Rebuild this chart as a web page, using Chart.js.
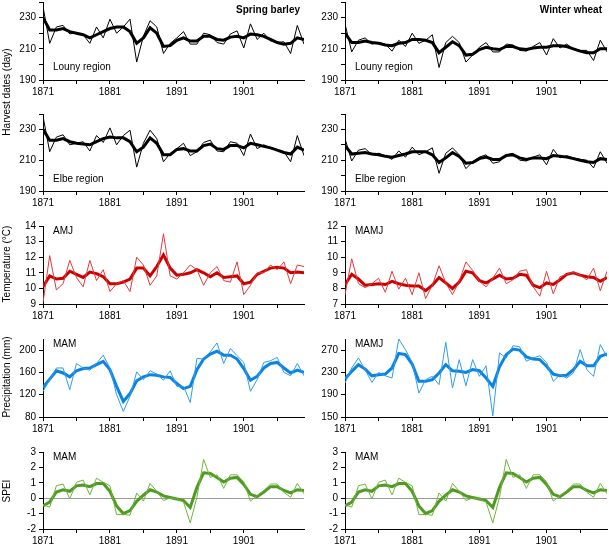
<!DOCTYPE html>
<html>
<head>
<meta charset="utf-8">
<script src="https://cdn.jsdelivr.net/npm/chart.js@4"></script>
<style>
  body { margin: 0; background: #fff; }
  #wrap { position: relative; width: 609px; height: 547px; overflow: hidden; font-family: "Liberation Sans", Arial, sans-serif; }
  canvas { position: absolute; }
  .lbl { position: absolute; font-size: 10px; color: #000; white-space: nowrap; line-height: 1; }
  .ttl { position: absolute; font-size: 10px; font-weight: bold; color: #000; white-space: nowrap; line-height: 1; }
  .ytitle { position: absolute; font-size: 10px; color: #000; white-space: nowrap; line-height: 1; transform: translate(-50%, -50%) rotate(-90deg); }
</style>
</head>
<body>
<div id="wrap"></div>
<script>
const years = [];
for (let y = 1871; y <= 1910; y++) years.push(y);

// harvest dates, spring barley, Louny
const lounySbAnnual = [237, 213.5, 224, 225, 219.5, 220.5, 219, 213.5, 224, 217, 229, 220, 224, 229, 201.5, 218, 228, 224, 207, 213.5,
  217, 221, 213, 213, 220, 219, 214, 213, 219.5, 221.5, 210.5, 226, 216, 220, 215, 214, 214.5, 207, 225, 213];
const lounySbSmooth = [230, 222, 222, 223, 221, 220, 219, 217, 219, 221, 223, 224, 224, 221, 213.5, 217, 223.5, 220, 211.5, 212,
  215.5, 217, 215, 215, 218, 218, 216, 215.5, 217.5, 218, 217, 219.5, 219, 218, 216, 214, 213, 213.5, 217, 216];

// harvest dates, winter wheat, Louny
const lounyWwAnnual = [226, 208, 215.5, 217, 213, 214, 213, 208.5, 215.5, 211.5, 220, 213.5, 215.5, 219, 198, 214, 218, 214, 201.5, 206,
  211, 214, 208, 208, 213, 212.5, 209, 208.5, 211.5, 214, 206, 216.5, 210.5, 213, 210, 209, 209, 202.5, 215.5, 208];
const lounyWwSmooth = [220, 214, 214, 215, 214, 213.5, 212.5, 212, 213.5, 214, 216, 216, 215.5, 214, 207.5, 211, 214.5, 212, 206, 206.5,
  209.5, 211, 210, 209.5, 211.5, 211.5, 210, 209.5, 210.5, 211, 211, 212, 212, 211.5, 210, 208.5, 207.5, 207.5, 210, 210];

// harvest dates, spring barley, Elbe
const elbeSbAnnual = [238.5, 215.5, 225, 226.5, 220, 221, 222, 216, 226, 221.5, 231, 220, 226, 229.5, 205.5, 221, 229.5, 224, 209, 214.5,
  217.5, 221, 213, 215.5, 221.5, 223, 216, 215.5, 222, 221, 213, 227, 217.5, 220, 218, 216.5, 215.5, 209, 226, 213];
const elbeSbSmooth = [230, 223, 223, 224, 222, 221, 220.5, 220, 222, 224, 225, 224.5, 224.5, 222, 215.5, 218.5, 224.5, 221, 213.5, 213.5,
  217, 217.5, 216, 216, 219.5, 220.5, 217.5, 217, 219.5, 219.5, 218, 221, 220, 219, 218, 216.5, 215, 214, 218.5, 216.5];

// harvest dates, winter wheat, Elbe
const elbeWwAnnual = [224, 209.5, 216.5, 217.5, 213.5, 214.5, 213, 210.5, 216, 212, 218.5, 213.5, 215.5, 218, 201.5, 214.5, 218, 213.5, 204.5, 209,
  212, 213.5, 208, 209, 213.5, 214.5, 210, 209.5, 212, 213.5, 207, 217, 211.5, 213, 211.5, 210.5, 210, 205, 215.5, 208];
const elbeWwSmooth = [219.5, 214, 214.5, 215, 214, 213.5, 212.5, 212, 213, 214, 215.5, 215.5, 215.5, 213.5, 208.5, 211.5, 215, 212.5, 208, 208.5,
  211, 212, 210.5, 210.5, 213, 213.5, 211.5, 210.5, 211.5, 211.5, 211, 213, 212.5, 212, 211, 210, 209, 208.5, 211, 210.5];

// temperature AMJ / MAMJ
const tempAmjAnnual = [9.1, 12.1, 9.9, 10.3, 11.8, 10.7, 10.1, 11.8, 10.5, 11.2, 9.8, 10.3, 10.5, 9.8, 12.0, 11.5, 10.2, 10.8, 13.5, 10.8,
  10.6, 11.0, 11.5, 11.2, 10.2, 11.0, 11.4, 10.5, 10.4, 11.7, 9.6, 10.2, 11.0, 11.0, 11.5, 11.2, 11.7, 10.3, 11.5, 11.4];
const tempAmjSmooth = [10.1, 10.8, 10.6, 10.65, 11.1, 10.9, 10.7, 11.05, 10.95, 10.75, 10.3, 10.3, 10.4, 10.6, 11.3, 11.3, 10.8, 11.4, 12.15, 11.3,
  10.85, 10.9, 11.0, 11.2, 11.0, 10.75, 11.0, 10.7, 10.75, 10.8, 10.3, 10.4, 10.9, 11.1, 11.3, 11.35, 11.3, 11.0, 11.05, 11.0];
const tempMamjAnnual = [7.6, 9.9, 8.3, 8.05, 8.3, 8.65, 7.75, 9.1, 7.95, 8.65, 7.6, 9.0, 7.35, 8.2, 9.45, 8.35, 7.6, 8.45, 9.7, 9.15,
  8.45, 8.1, 8.65, 9.3, 8.3, 8.55, 9.1, 9.2, 8.1, 7.5, 9.1, 7.65, 8.75, 8.9, 9.05, 8.85, 8.55, 9.3, 7.85, 9.1];
const tempMamjSmooth = [8.25, 8.9, 8.6, 8.2, 8.25, 8.3, 8.25, 8.45, 8.3, 8.2, 8.15, 8.15, 7.85, 8.2, 8.7, 8.35, 8.0, 8.4, 9.1, 9.0,
  8.5, 8.35, 8.6, 8.85, 8.6, 8.65, 8.9, 8.85, 8.2, 8.05, 8.35, 8.25, 8.55, 8.9, 9.0, 8.85, 8.75, 8.7, 8.45, 8.7];

// precipitation MAM / MAMJ
const precMamAnnual = [126, 147, 168, 168, 129, 176, 168, 164, 176, 191, 168, 120, 90, 117, 161, 147, 163, 157, 146, 163,
  135, 135, 106, 185, 184, 197, 213, 176, 203, 190, 178, 126, 147, 178, 181, 187, 160, 154, 176, 154];
const precMamSmooth = [133, 148, 163, 159, 152, 163, 167, 168, 174, 180, 165, 135, 108, 122, 145, 152, 156, 155, 152, 151,
  140, 131, 135, 165, 184, 193, 198, 191, 191, 184, 167, 146, 153, 168, 176, 178, 168, 159, 164, 160];
const precMamjAnnual = [211, 238, 256, 235, 212, 230, 224, 220, 290, 271, 248, 193, 217, 223, 208, 284, 202, 253, 206, 253,
  223, 242, 152, 265, 256, 278, 276, 250, 256, 260, 248, 214, 226, 220, 229, 271, 235, 223, 280, 258];
const precMamjSmooth = [218, 232, 244, 236, 224, 226, 227, 238, 264, 262, 245, 214, 214, 217, 229, 244, 233, 232, 230, 235,
  233, 220, 205, 240, 262, 272, 270, 258, 254, 253, 241, 227, 224, 225, 235, 250, 242, 242, 259, 263];

// SPEI MAM
const speiAnnual = [-0.43, -0.58, 0.81, 0.92, -0.04, 1.03, 1.18, 0.21, 1.3, 1.03, 0.81, -1.07, -1.05, -1.11, 0.34, -0.19, 0.96, 0.45, -0.15, 0.02,
  -0.04, -0.26, -1.6, 0.06, 2.52, 1.35, 1.52, 0.64, 1.52, 1.52, 1.07, -0.19, 0.17, 0.49, 0.92, 0.92, 0.38, 0.06, 0.96, 0.28];
const speiSmooth = [-0.5, -0.25, 0.4, 0.55, 0.45, 0.8, 0.85, 0.75, 0.95, 0.95, 0.45, -0.5, -1.0, -0.8, -0.2, 0.2, 0.55, 0.4, 0.15, 0.05,
  -0.05, -0.15, -0.6, 0.7, 1.65, 1.6, 1.35, 1.05, 1.3, 1.35, 0.9, 0.25, 0.1, 0.4, 0.75, 0.75, 0.5, 0.35, 0.55, 0.5];

const xTicks = [1871, 1876, 1881, 1886, 1891, 1896, 1901, 1906];

const colors = {
  black: ['#000000', '#000000'],
  red: ['#e23a3a', '#cc0000'],
  blue: ['#2f9cf0', '#0b83e3'],
  green: ['#6fb43c', '#4f9a22']
};

const rows = [
  { top: 1, h: 79 },
  { top: 113, h: 78 },
  { top: 225, h: 79 },
  { top: 338, h: 79 },
  { top: 451, h: 78 }
];
const cols = [
  { left: 0, yw: 43, w: 306 },
  { left: 305, yw: 40, w: 304 }
];

const panels = [
  { r: 0, c: 0, a: lounySbAnnual, s: lounySbSmooth, col: 'black', min: 190, max: 240, step: 10, lstep: 20, tag: 'Louny region', tagBottom: true, title: 'Spring barley' },
  { r: 0, c: 1, a: lounyWwAnnual, s: lounyWwSmooth, col: 'black', min: 190, max: 240, step: 10, lstep: 20, tag: 'Louny region', tagBottom: true, title: 'Winter wheat' },
  { r: 1, c: 0, a: elbeSbAnnual, s: elbeSbSmooth, col: 'black', min: 190, max: 240, step: 10, lstep: 20, tag: 'Elbe region', tagBottom: true },
  { r: 1, c: 1, a: elbeWwAnnual, s: elbeWwSmooth, col: 'black', min: 190, max: 240, step: 10, lstep: 20, tag: 'Elbe region', tagBottom: true },
  { r: 2, c: 0, a: tempAmjAnnual, s: tempAmjSmooth, col: 'red', min: 9, max: 14, step: 1, lstep: 1, tag: 'AMJ' },
  { r: 2, c: 1, a: tempMamjAnnual, s: tempMamjSmooth, col: 'red', min: 7, max: 12, step: 1, lstep: 1, tag: 'MAMJ' },
  { r: 3, c: 0, a: precMamAnnual, s: precMamSmooth, col: 'blue', min: 80, max: 220, step: 20, lstep: 40, tag: 'MAM' },
  { r: 3, c: 1, a: precMamjAnnual, s: precMamjSmooth, col: 'blue', min: 150, max: 290, step: 20, lstep: 40, tag: 'MAMJ' },
  { r: 4, c: 0, a: speiAnnual, s: speiSmooth, col: 'green', min: -2, max: 3, step: 1, lstep: 1, tag: 'MAM', zero: true },
  { r: 4, c: 1, a: speiAnnual, s: speiSmooth, col: 'green', min: -2, max: 3, step: 1, lstep: 1, tag: 'MAM', zero: true }
];

const wrap = document.getElementById('wrap');
const PAD_TOP = 8, XAX_H = 22;

function addText(cls, text, x, y) {
  const d = document.createElement('div');
  d.className = cls;
  d.textContent = text;
  d.style.left = x + 'px';
  d.style.top = y + 'px';
  wrap.appendChild(d);
  return d;
}

panels.forEach(p => {
  const row = rows[p.r], col = cols[p.c];
  const cv = document.createElement('canvas');
  const h = PAD_TOP + row.h + XAX_H;
  cv.width = col.w; cv.height = h;
  cv.style.left = col.left + 'px';
  cv.style.top = (row.top - PAD_TOP) + 'px';
  cv.style.width = col.w + 'px'; cv.style.height = h + 'px';
  wrap.appendChild(cv);

  const pts = arr => years.map((y, i) => ({ x: y, y: arr[i] }));
  const c = colors[p.col];
  new Chart(cv.getContext('2d'), {
    type: 'line',
    data: {
      datasets: [
        { data: pts(p.a), borderColor: c[0], borderWidth: 1, pointRadius: 0, tension: 0, fill: false },
        { data: pts(p.s), borderColor: c[1], borderWidth: 3, pointRadius: 0, tension: 0, fill: false }
      ]
    },
    options: {
      responsive: false,
      animation: false,
      devicePixelRatio: 1,
      layout: { padding: { top: PAD_TOP, right: 2, left: 0, bottom: 0 } },
      plugins: { legend: { display: false }, tooltip: { enabled: false } },
      scales: {
        x: {
          type: 'linear', min: 1871, max: 1910,
          afterBuildTicks: s => { s.ticks = xTicks.map(v => ({ value: v })); },
          afterFit: s => { s.height = XAX_H; },
          border: { display: true, color: '#000', width: 1 },
          grid: { display: true, drawOnChartArea: false, drawTicks: true, tickLength: 4, color: '#000' },
          ticks: {
            autoSkip: false, maxRotation: 0, padding: 2, color: '#000',
            font: { family: 'Liberation Sans', size: 10 },
            callback: v => ((v - 1871) % 10 === 0 ? String(v) : '')
          }
        },
        y: {
          min: p.min, max: p.max,
          afterFit: s => { s.width = col.yw; },
          border: { display: true, color: '#000', width: 1 },
          grid: {
            display: true, drawOnChartArea: !!p.zero, drawTicks: true, tickLength: 4,
            color: ctx => (p.zero && ctx.tick && ctx.tick.value === 0 ? '#9a9a9a' : 'rgba(0,0,0,0)'),
            tickColor: '#000'
          },
          ticks: {
            stepSize: p.step, padding: 3, color: '#000',
            font: { family: 'Liberation Sans', size: 10 },
            callback: v => (Math.round((v - p.min) * 1000) % Math.round(p.lstep * 1000) === 0 ? String(v) : '')
          }
        }
      }
    }
  });

  const plotLeft = col.left + col.yw;
  const tagY = p.tagBottom ? row.top + 61 : row.top + 1;
  addText('lbl', p.tag, plotLeft + 10, tagY);
  if (p.title) {
    const t = addText('ttl', p.title, 0, row.top + 4);
    t.style.left = 'auto';
    t.style.right = (609 - (p.c === 0 ? 300 : 602)) + 'px';
  }
});

// y-axis titles
addText('ytitle', 'Harvest dates (day)', 7, 92);
addText('ytitle', 'Temperature (°C)', 7, 264);
addText('ytitle', 'Precipitation (mm)', 7, 377);
addText('ytitle', 'SPEI', 7, 491);
</script>
</body>
</html>
